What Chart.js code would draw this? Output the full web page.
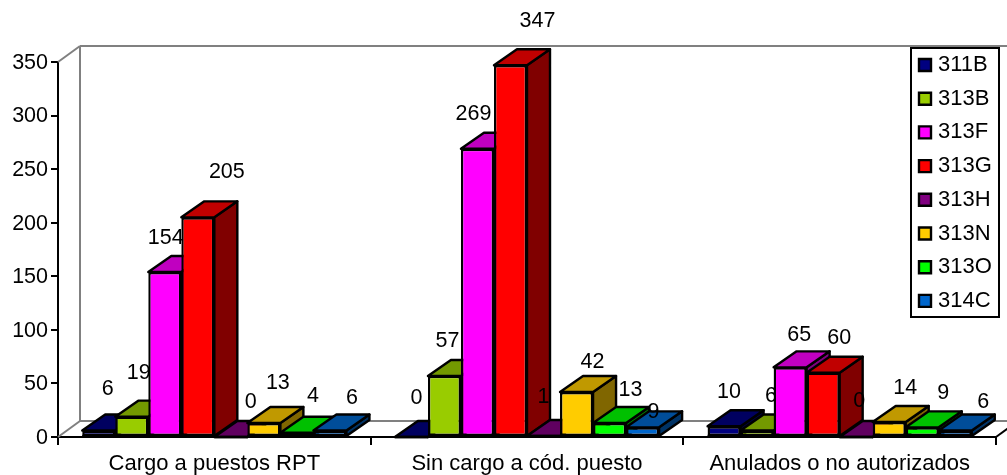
<!DOCTYPE html>
<html>
<head>
<meta charset="utf-8">
<style>
  body { margin: 0; background: #fff; }
</style>
<script src="https://cdn.jsdelivr.net/npm/chart.js@4"></script>
</head>
<body>
<canvas id="barChart" width="1007" height="475"></canvas>
<script>
const categories = ['Cargo a puestos RPT', 'Sin cargo a cód. puesto', 'Anulados o no autorizados'];
const seriesNames = ['311B', '313B', '313F', '313G', '313H', '313N', '313O', '314C'];

const values311B = [6, 0, 10];
const values313B = [19, 57, 6];
const values313F = [154, 269, 65];
const values313G = [205, 347, 60];
const values313H = [0, 1, 0];
const values313N = [13, 42, 14];
const values313O = [4, 13, 9];
const values314C = [6, 9, 6];
const seriesValues = [values311B, values313B, values313F, values313G, values313H, values313N, values313O, values314C];

const yMax = 350;
const yStep = 50;

// front, top and side shades of each series
const frontColors = ['#000080', '#99CC00', '#FF00FF', '#FF0000', '#800080', '#FFCC00', '#00FF00', '#0066CC'];
const topColors = ['#000060', '#739900', '#C000C0', '#C00000', '#600060', '#C09900', '#00C000', '#004D99'];
const sideColors = ['#000040', '#4D6600', '#800080', '#800000', '#400040', '#806600', '#008000', '#003366'];

// where each value label sits relative to the top of its bar: [dx, dy] per category
const labelOffsets = [
    [[9, -41], [5, -39], [5, -34]],
    [[7, -44], [3, -35], [14, -34]],
    [[1, -34], [-4, -35], [9, -32]],
    [[29, -45], [27, -44], [16, -35]],
    [[20, -35], [0, -39], [3, -36]],
    [[14, -40], [16, -30], [16, -34]],
    [[16, -37], [21, -33], [21, -34]],
    [[22, -32], [11, -15], [28, -28]]
];

const fontFamily = '"Liberation Sans", Arial, sans-serif';
const depthX = 22;      // depth of the floor and walls
const depthY = 16;
const barDepthX = 23;   // depth of a bar
const barDepthY = 16;
const barLine = 2.4;

const polygon = (ctx, points, fill) => {
    ctx.beginPath();
    points.forEach(([x, y], i) => (i ? ctx.lineTo(x, y) : ctx.moveTo(x, y)));
    ctx.closePath();
    ctx.fillStyle = fill;
    ctx.fill();
    ctx.stroke();
};

const line = (ctx, x1, y1, x2, y2) => {
    ctx.beginPath();
    ctx.moveTo(x1, y1);
    ctx.lineTo(x2, y2);
    ctx.stroke();
};

// Back walls and floor, behind the bars
const wallsPlugin = {
    id: 'walls',
    beforeDatasetsDraw(chart) {
        const { ctx, chartArea: { left, right, top, bottom } } = chart;
        ctx.save();
        ctx.lineWidth = 2;
        ctx.strokeStyle = '#808080';
        line(ctx, left, top, left + depthX, top - depthY);
        line(ctx, left + depthX, top - depthY, right + depthX, top - depthY);
        line(ctx, left + depthX, top - depthY, left + depthX, bottom - depthY);
        line(ctx, left + depthX, bottom - depthY, right + depthX, bottom - depthY);
        line(ctx, left, bottom, left + depthX, bottom - depthY);
        ctx.strokeStyle = '#000';
        line(ctx, right, bottom, right + depthX, bottom - depthY);
        ctx.restore();
    }
};

// Chart.js paints the last series first, here the first one has to go first so later bars
// cover it. Each series gets its top, side and value label right after its front.
const barFacesPlugin = {
    id: 'barFaces',
    beforeDatasetDraw() {
        return false;
    },
    afterDatasetsDraw(chart) {
        const { ctx } = chart;
        seriesNames.forEach((name, s) => {
            const meta = chart.getDatasetMeta(s);
            meta.controller.draw();
            ctx.save();
            ctx.lineWidth = barLine;
            ctx.lineJoin = 'round';
            ctx.strokeStyle = '#000';
            meta.data.forEach((bar, c) => {
                const x0 = bar.x - bar.width / 2;
                const x1 = bar.x + bar.width / 2;
                const y = bar.y;
                const base = bar.base;
                polygon(ctx, [[x1, y], [x1 + barDepthX, y - barDepthY], [x1 + barDepthX, base - barDepthY], [x1, base]], sideColors[s]);
                polygon(ctx, [[x0, y], [x0 + barDepthX, y - barDepthY], [x1 + barDepthX, y - barDepthY], [x1, y]], topColors[s]);
                line(ctx, x0, base, x1, base);

                ctx.fillStyle = '#000';
                ctx.font = '21.5px ' + fontFamily;
                ctx.textAlign = 'center';
                ctx.textBaseline = 'middle';
                const [dx, dy] = labelOffsets[s][c];
                ctx.fillText(String(seriesValues[s][c]), bar.x + dx, y + dy);
            });
            ctx.restore();
        });
    }
};

// Legend sits over the top right of the plot, inside a black frame
const legendPlacePlugin = {
    id: 'legendPlace',
    afterLayout(chart) {
        const legend = chart.legend;
        legend.left = 911.3;
        legend.top = 42.3;
        legend.right = legend.left + legend.width;
        legend.bottom = legend.top + legend.height;
    },
    afterDraw(chart) {
        const { ctx } = chart;
        ctx.save();
        ctx.lineWidth = 2;
        ctx.strokeStyle = '#000';
        ctx.strokeRect(911, 48, 88, 269);
        ctx.restore();
    }
};

const ctx = document.getElementById('barChart').getContext('2d');
window.barChart = new Chart(ctx, {
    type: 'bar',
    data: {
        labels: categories,
        datasets: seriesNames.map((name, i) => ({
            label: name,
            data: seriesValues[i],
            backgroundColor: frontColors[i],
            borderColor: '#000',
            borderWidth: barLine,
            borderSkipped: false,
            categoryPercentage: 0.845,
            barPercentage: 1
        }))
    },
    options: {
        responsive: false,
        animation: false,
        layout: {
            padding: { top: 62, right: 11, left: 0, bottom: 0 }
        },
        plugins: {
            legend: {
                position: 'chartArea',
                align: 'start',
                onClick: null,
                labels: {
                    color: '#000',
                    font: { family: fontFamily, size: 22 },
                    usePointStyle: true,
                    pointStyle: 'rect',
                    boxWidth: 4,
                    boxHeight: 12,
                    padding: 11.7
                }
            },
            tooltip: { enabled: false }
        },
        scales: {
            x: {
                afterFit: scale => { scale.height = 38; },
                grid: { drawOnChartArea: false, color: '#000', lineWidth: 2, tickLength: 8 },
                border: { color: '#000', width: 2 },
                ticks: {
                    color: '#000',
                    font: { family: fontFamily, size: 22 },
                    padding: 6,
                    autoSkip: false,
                    maxRotation: 0
                }
            },
            y: {
                min: 0,
                max: yMax,
                afterFit: scale => { scale.width = 58; },
                grid: { drawOnChartArea: false, color: '#000', lineWidth: 2, tickLength: 7 },
                border: { color: '#000', width: 2 },
                ticks: {
                    stepSize: yStep,
                    color: '#000',
                    font: { family: fontFamily, size: 21.5 },
                    padding: 3,
                    labelOffset: 1
                }
            }
        }
    },
    plugins: [wallsPlugin, barFacesPlugin, legendPlacePlugin]
});
</script>
</body>
</html>
